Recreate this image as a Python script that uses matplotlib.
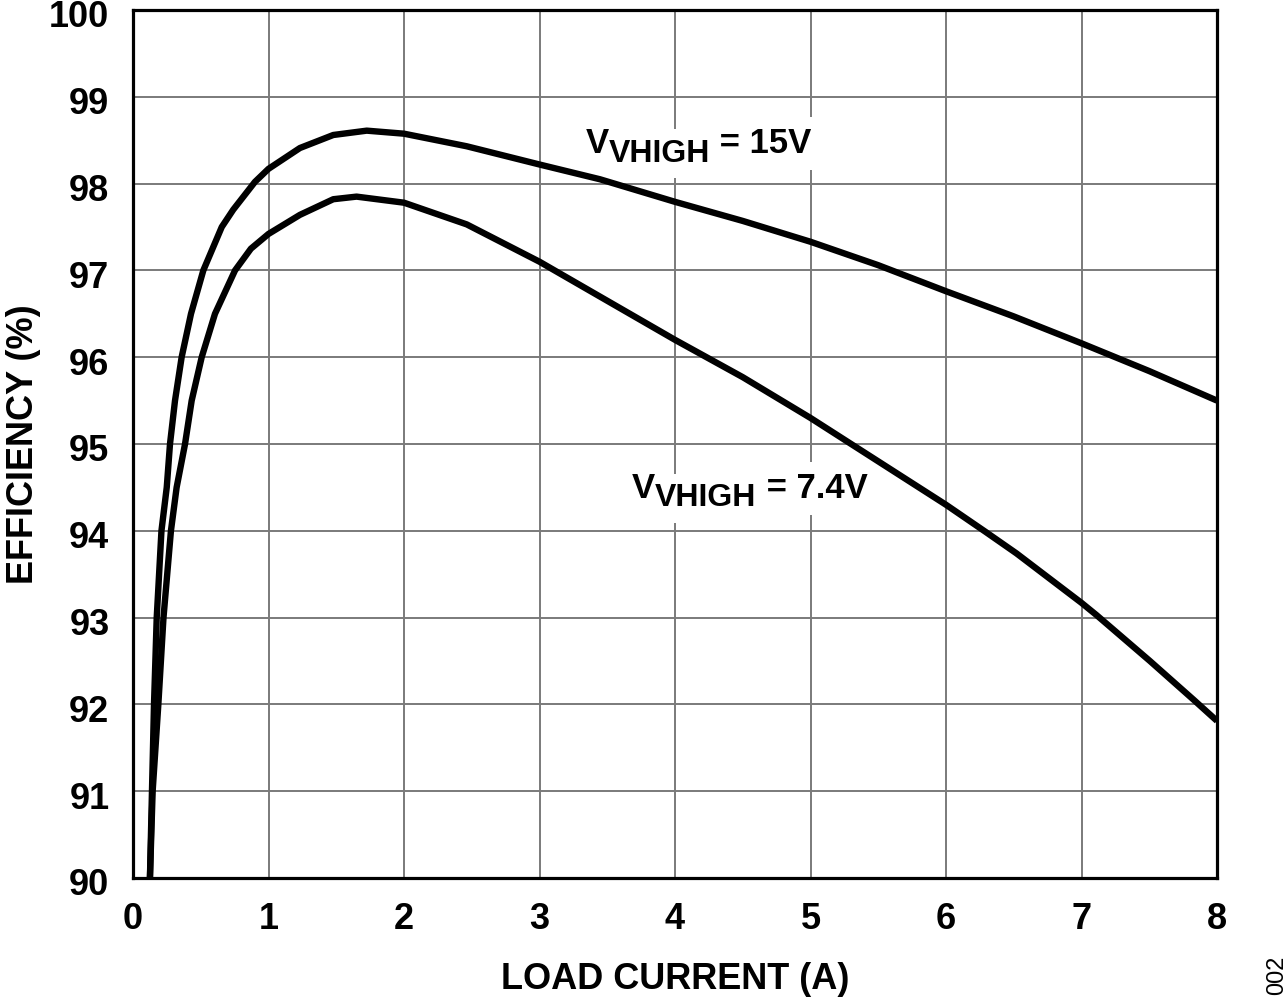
import matplotlib
matplotlib.use("Agg")
import matplotlib.pyplot as plt
import matplotlib.transforms as mtransforms

# efficiency vs load current
current_15v = [0.125, 0.14, 0.155, 0.175, 0.21, 0.249, 0.273, 0.31, 0.359, 0.428, 0.519,
               0.655, 0.74, 0.90, 1.0, 1.232, 1.478, 1.725, 2.0, 2.463, 3.0, 3.446,
               4.0, 4.5, 5.0, 5.5, 6.0, 6.5, 7.0, 7.5, 8.0]
eff_15v = [90.0, 91.0, 92.0, 93.0, 94.0, 94.5, 95.0, 95.5, 96.0, 96.5, 97.0,
           97.5, 97.7, 98.02, 98.17, 98.41, 98.56, 98.61, 98.575, 98.43, 98.22, 98.05,
           97.79, 97.57, 97.33, 97.06, 96.76, 96.47, 96.16, 95.84, 95.5]

current_7v4 = [0.125, 0.145, 0.187, 0.225, 0.28, 0.322, 0.384, 0.433, 0.507, 0.605, 0.753,
               0.87, 1.0, 1.232, 1.478, 1.65, 2.0, 2.463, 3.0, 3.5, 4.0, 4.5, 5.0, 5.29,
               6.0, 6.29, 6.52, 7.0, 7.11, 7.505, 7.83, 8.0]
eff_7v4 = [90.0, 91.0, 92.0, 93.0, 94.0, 94.5, 95.0, 95.5, 96.0, 96.5, 97.0,
           97.25, 97.42, 97.64, 97.82, 97.85, 97.78, 97.53, 97.1, 96.65, 96.2, 95.77, 95.3, 95.01,
           94.3, 93.99, 93.74, 93.17, 93.03, 92.5, 92.05, 91.81]

x_ticks = list(range(0, 9))
y_ticks = list(range(90, 101))

label_15v = ("V", "VHIGH", " = 15V")
label_7v4 = ("V", "VHIGH", " = 7.4V")

plt.rcParams["font.family"] = ["Liberation Sans", "DejaVu Sans"]
plt.rcParams["font.weight"] = "bold"

fig = plt.figure(figsize=(12.87, 10.01), dpi=100)
ax = fig.add_axes([133 / 1287, 1 - 878 / 1001, 1084 / 1287, 868 / 1001])

ax.plot(current_15v, eff_15v, color="black", lw=4.6, zorder=4,
        solid_capstyle="butt", solid_joinstyle="round")
ax.plot(current_7v4, eff_7v4, color="black", lw=4.6, zorder=4,
        solid_capstyle="butt", solid_joinstyle="round")

ax.set_xlim(0, 8)
ax.set_ylim(90, 100)
ax.set_xticks(x_ticks)
ax.set_yticks(y_ticks)
ax.tick_params(length=0, labelsize=26, pad=17)
ax.set_axisbelow(True)
ax.grid(True, color="#7a7a7a", lw=1.4)
for sp in ax.spines.values():
    sp.set_linewidth(2.3)
    sp.set_zorder(5)

# y tick labels sit a few pixels below their gridlines in the original
nudge = mtransforms.ScaledTranslation(0, -0.04, fig.dpi_scale_trans)
for lbl in ax.get_yticklabels():
    lbl.set_transform(lbl.get_transform() + nudge)

ax.set_xlabel("LOAD CURRENT (A)", fontsize=26, fontweight="bold")
ax.xaxis.set_label_coords(0.5, -0.097)
ax.xaxis.label.set_va("top")
ax.set_ylabel("EFFICIENCY (%)", fontsize=26, fontweight="bold")
ax.yaxis.set_label_coords(-0.085, 0.5)


def curve_label(x, y, parts):
    # first pass: white boxes, second pass: the text itself on top
    for color, box, z in (("white", dict(fc="white", ec="none", pad=7), 1.5),
                          ("black", None, 2.5)):
        t1 = ax.text(x, y, parts[0], fontsize=25, fontweight="bold", va="baseline",
                     color=color, bbox=box, zorder=z)
        t2 = ax.annotate(parts[1], xy=(1, 0), xycoords=t1, xytext=(0, -6),
                         textcoords="offset points", fontsize=23, fontweight="bold",
                         va="bottom", color=color, bbox=box, zorder=z)
        ax.annotate(parts[2], xy=(1, 0), xycoords=t2, xytext=(0, 6),
                    textcoords="offset points", fontsize=25, fontweight="bold",
                    va="bottom", color=color, bbox=box, zorder=z)


curve_label(3.343, 98.35, label_15v)
curve_label(3.683, 94.38, label_7v4)

fig.text(1277 / 1287, 1 - 975 / 1001, "002", fontsize=17, fontweight="normal",
         rotation=90, ha="center", va="center")

fig.savefig("out.png", dpi=100)
